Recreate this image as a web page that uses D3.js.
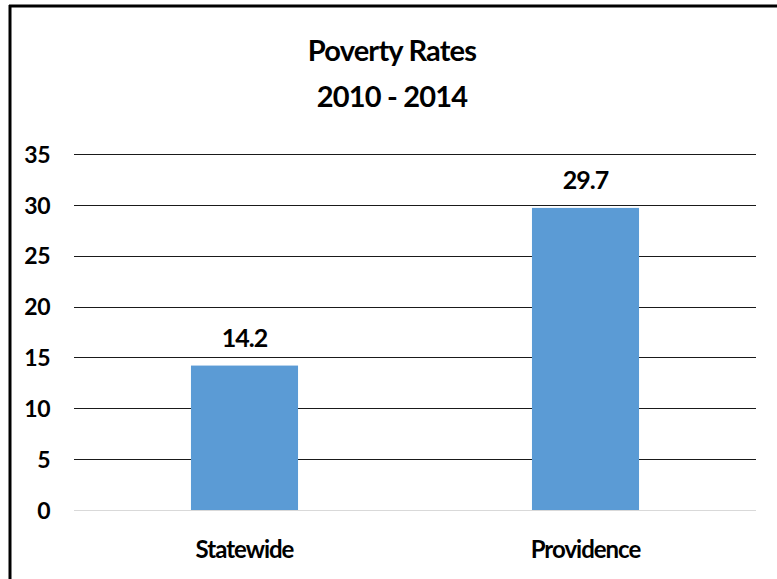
<!DOCTYPE html>
<html><head><meta charset="utf-8">
<script src="https://cdn.jsdelivr.net/npm/d3@7"></script>
<style>body{margin:0;background:#fff}svg{display:block}text{font-family:Lato,"Open Sans",sans-serif;font-weight:bold;fill:#000}</style>
</head><body>
<script>
const categories = ["Statewide", "Providence"];
const values = [14.2, 29.7];
const yTicks = [0, 5, 10, 15, 20, 25, 30, 35];
const titleLines = ["Poverty Rates", "2010 - 2014"];

(function () {
const W = 777, H = 579;
const svg = d3.select("body").append("svg").attr("width", W).attr("height", H);
svg.append("rect").attr("width", W).attr("height", H).attr("fill", "#fff");
// frame (left and top edges visible)
svg.append("line").attr("x1", 10).attr("x2", 10).attr("y1", 5).attr("y2", H).attr("stroke", "#000").attr("stroke-width", 3);
svg.append("line").attr("x1", 9).attr("x2", W).attr("y1", 6).attr("y2", 6).attr("stroke", "#000").attr("stroke-width", 3);

const pLeft = 74, pRight = 756, pTop = 154, pBottom = 510;
const y = d3.scaleLinear().domain([0, 35]).range([pBottom, pTop]);
const x = d3.scaleBand().domain(categories).range([pLeft, pRight]).paddingInner(0.686).paddingOuter(0.343);

// gridlines
svg.append("g").selectAll("line").data(yTicks).join("line")
  .attr("x1", pLeft).attr("x2", pRight)
  .attr("y1", d => Math.round(y(d)) + 0.5).attr("y2", d => Math.round(y(d)) + 0.5)
  .attr("stroke", d => d === 0 ? "#d9d9d9" : "#1a1a1a").attr("stroke-width", 1);

// y axis labels
const yAxis = d3.axisLeft(y).tickValues(yTicks).tickSize(0).tickPadding(0);
const ga = svg.append("g").attr("transform", `translate(50,0)`).call(yAxis);
ga.select(".domain").remove();
ga.attr("font-family", null).attr("font-size", null);
ga.selectAll("text").style("font-size", "23px").style("letter-spacing", "-0.5px").attr("dy", "0.36em").attr("fill", "#000");

// bars
svg.append("g").selectAll("rect").data(values).join("rect")
  .attr("x", (d, i) => x(categories[i])).attr("width", x.bandwidth())
  .attr("y", d => y(d)).attr("height", d => y(0) - y(d))
  .attr("fill", "#5b9bd5");

// data labels
svg.append("g").selectAll("text").data(values).join("text")
  .attr("x", (d, i) => x(categories[i]) + x.bandwidth() / 2)
  .attr("y", d => y(d) - 19)
  .attr("text-anchor", "middle").style("font-size", "25px").style("letter-spacing", "-1px")
  .text(d => d.toFixed(1));

// category labels
const xAxis = d3.axisBottom(x).tickSize(0).tickPadding(0);
const gx = svg.append("g").attr("transform", `translate(0,${pBottom})`).call(xAxis);
gx.select(".domain").remove();
gx.attr("font-family", null).attr("font-size", null);
gx.selectAll("text").attr("dy", null).attr("y", 48).style("font-size", "24px").style("letter-spacing", "-1px").attr("fill", "#000");

// title
svg.append("g").selectAll("text").data(titleLines).join("text")
  .attr("x", 392).attr("y", (d, i) => 61 + i * 46)
  .attr("text-anchor", "middle").style("font-size", "29px").style("letter-spacing", "-0.8px")
  .text(d => d);
})();
</script>
</body></html>
